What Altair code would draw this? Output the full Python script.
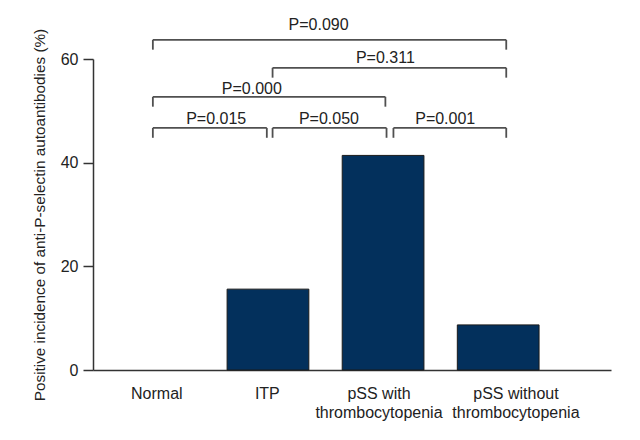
import json
import altair as alt
import pandas as pd

# ---- data ----
categories = ["Normal", "ITP", "pSS with thrombocytopenia", "pSS without thrombocytopenia"]
label_lines = [["Normal"], ["ITP"], ["pSS with", "thrombocytopenia"], ["pSS without", "thrombocytopenia"]]
label_pos = [0.03, 0.99, 1.96, 3.15]
values = [0.0, 15.6, 41.4, 8.7]

p_labels = ["P=0.015", "P=0.050", "P=0.001", "P=0.000", "P=0.311", "P=0.090"]
bracket_left = [0.0, 1.04, 2.09, 0.0, 1.04, 0.0]
bracket_right = [0.99, 2.03, 3.07, 2.02, 3.07, 3.07]
bracket_y = [46.7, 46.7, 46.7, 52.7, 58.3, 63.7]
label_x = [0.55, 1.53, 2.54, 0.86, 2.02, 1.44]
label_y = [47.5, 47.5, 47.5, 53.3, 59.3, 65.6]

FONT = "Liberation Sans"
BAR = "#03305c"
LINE = "#505050"

bars_df = pd.DataFrame({"idx": list(range(len(categories))), "category": categories, "value": values})
br_df = pd.DataFrame({"left": bracket_left, "right": bracket_right, "y": bracket_y,
                      "p": p_labels, "lx": label_x, "ly": label_y})

xscale = alt.Scale(domain=[-0.52, 3.98], nice=False, zero=False)
yscale = alt.Scale(domain=[0, 60], nice=False)

label_expr = json.dumps(label_lines) + "[round(datum.value)]"

bars = alt.Chart(bars_df).transform_filter("datum.value > 0").transform_calculate(
    x0="datum.idx - 0.355", x1="datum.idx + 0.355"
).mark_rect(color=BAR, stroke="#1a1a1a", strokeWidth=1).encode(
    x=alt.X("x0:Q", scale=xscale,
            axis=alt.Axis(values=label_pos, labelExpr=label_expr, ticks=False, grid=False,
                          title=None, labelFont=FONT, labelFontSize=16, labelColor="#222",
                          labelPadding=15, labelLineHeight=19, labelBaseline="top",
                          labelOverlap=False, labelBound=False, labelAlign="center",
                          domainColor="#333", domainWidth=1.5, labelFlush=False)),
    x2="x1:Q",
    y=alt.Y("value:Q", scale=yscale,
            axis=alt.Axis(values=[0, 20, 40, 60], grid=False, tickSize=10, tickColor="#333",
                          tickWidth=1.5, domainColor="#333", domainWidth=1.5,
                          labelFont=FONT, labelFontSize=16, labelColor="#222", labelPadding=5,
                          title="Positive incidence of anti-P-selectin autoantibodies (%)",
                          titleFont=FONT, titleFontSize=15.3, titleFontWeight="normal",
                          titleColor="#222", titlePadding=13)),
    y2=alt.Y2(datum=0),
)

hlines = alt.Chart(br_df).mark_rule(color=LINE, strokeWidth=1.8).encode(
    x=alt.X("left:Q", scale=xscale), x2="right:Q", y=alt.Y("y:Q", scale=yscale)
)

drops = alt.Chart(br_df).transform_fold(["left", "right"], as_=["side", "xpos"]).transform_calculate(
    y_end="datum.y - 1.9"
).mark_rule(color=LINE, strokeWidth=1.8).encode(
    x=alt.X("xpos:Q", scale=xscale), y=alt.Y("y:Q", scale=yscale), y2="y_end:Q"
)

texts = alt.Chart(br_df).mark_text(font=FONT, fontSize=16, color="#222", baseline="alphabetic").encode(
    x=alt.X("lx:Q", scale=xscale), y=alt.Y("ly:Q", scale=yscale), text="p:N"
)

chart = alt.layer(bars, hlines, drops, texts).properties(
    width=518, height=311,
    autosize=alt.AutoSizeParams(type="none"),
    padding={"left": 85, "top": 51, "right": 21, "bottom": 62},
).configure_view(stroke=None)

chart.save("out.html", embed_options={"renderer": "svg", "actions": False})
